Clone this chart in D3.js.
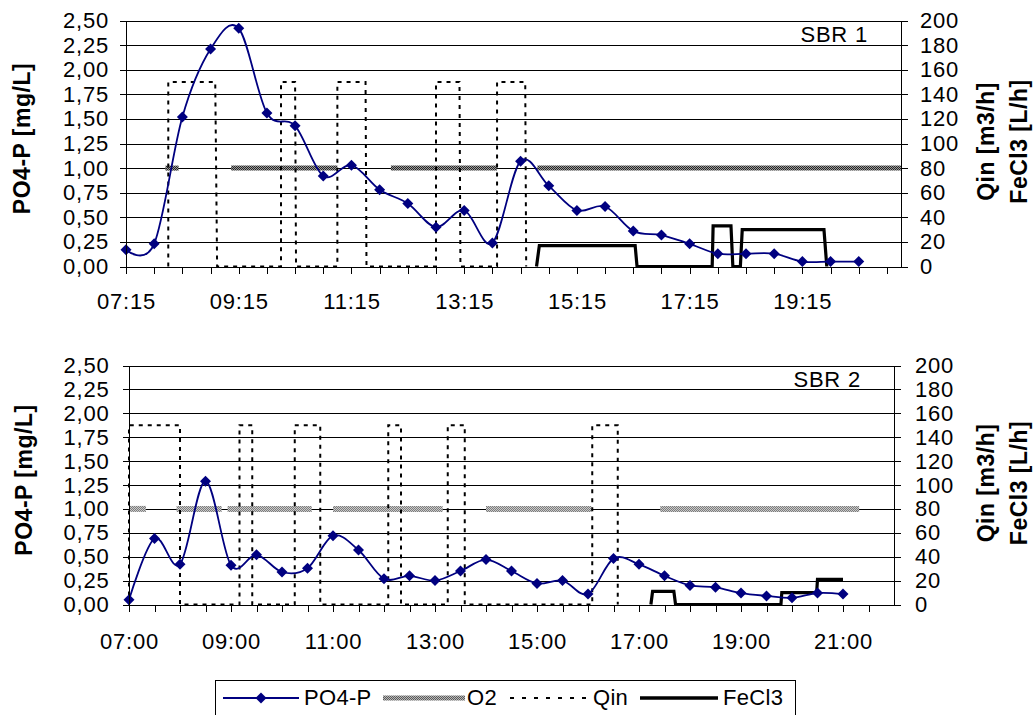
<!DOCTYPE html>
<html>
<head>
<meta charset="utf-8">
<title>SBR 1 / SBR 2</title>
<script src="https://d3js.org/d3.v7.min.js"></script>
<style>
  body { margin: 0; background: #fff; }
  svg text { font-family: "Liberation Sans", Arial, sans-serif; fill: #000; }
</style>
</head>
<body>
<script>
// ---- SBR 1 ----
const sbr1Times = ["07:15","07:45","08:15","08:45","09:15","09:45","10:15","10:45","11:15","11:45","12:15","12:45","13:15","13:45",
                   "14:15","14:45","15:15","15:45","16:15","16:45","17:15","17:45","18:15","18:45","19:15","19:45","20:15"];
const sbr1PO4 = [0.17,0.23,1.52,2.21,2.42,1.56,1.43,0.92,1.03,0.78,0.64,0.40,0.57,0.24,
                 1.07,0.82,0.57,0.61,0.36,0.32,0.23,0.13,0.13,0.13,0.05,0.05,0.05];
const sbr1O2Start = ["07:57","09:07","11:57","14:33"];
const sbr1O2End   = ["08:11","11:00","13:50","21:00"];
const sbr1QinTimes  = ["08:00","08:00","08:50","08:52","10:00","10:00","10:15","10:16","11:00","11:00","11:30","11:31",
                       "12:45","12:45","13:10","13:11","13:50","13:50","14:20","14:21"];
const sbr1QinValues = [0,150,150,0, 0,150,150,0, 0,150,150,0, 0,150,150,0, 0,150,150,0];
const sbr1FeTimes  = ["14:32","14:35","16:17","16:19","17:39","17:40","17:59","18:01","18:09","18:11","19:38","19:41"];
const sbr1FeValues = [0,17,17,0, 0,33,33,0, 0,30,30,0];
const sbr1XLabels = ["07:15","09:15","11:15","13:15","15:15","17:15","19:15"];

// ---- SBR 2 ----
const sbr2Times = ["07:00","07:30","08:00","08:30","09:00","09:30","10:00","10:30","11:00","11:30","12:00","12:30","13:00","13:30",
                   "14:00","14:30","15:00","15:30","16:00","16:30","17:00","17:30","18:00","18:30","19:00","19:30","20:00","20:30","21:00"];
const sbr2PO4 = [0.05,0.69,0.42,1.29,0.41,0.52,0.34,0.38,0.72,0.57,0.27,0.30,0.25,0.35,
                 0.47,0.35,0.22,0.25,0.11,0.48,0.42,0.30,0.20,0.18,0.12,0.09,0.07,0.12,0.11];
const sbr2O2Start = ["07:00","07:56","08:56","11:00","14:00","17:25"];
const sbr2O2End   = ["07:20","08:49","10:35","13:09","16:04","21:19"];
const sbr2QinTimes  = ["07:00","07:00","08:00","08:00","09:10","09:10","09:25","09:25","10:15","10:15","10:45","10:45",
                       "12:05","12:05","12:20","12:20","13:15","13:15","13:35","13:35","16:05","16:05","16:35","16:35"];
const sbr2QinValues = [0,150,150,0, 0,150,150,0, 0,150,150,0, 0,150,150,0, 0,150,150,0, 0,150,150,0];
const sbr2FeTimes  = ["17:14","17:16","17:41","17:43","19:47","19:48","20:29","20:30","21:00"];
const sbr2FeValues = [0,11,11,0, 0,10,10,21,21];
const sbr2XLabels = ["07:00","09:00","11:00","13:00","15:00","17:00","19:00","21:00"];

// shared
const o2Level = 80;
const leftTicks = [0,0.25,0.5,0.75,1,1.25,1.5,1.75,2,2.25,2.5];
const leftTickLabels = ["0,00","0,25","0,50","0,75","1,00","1,25","1,50","1,75","2,00","2,25","2,50"];
const rightTicks = [0,20,40,60,80,100,120,140,160,180,200];
const legendNames = ["PO4-P","O2","Qin","FeCl3"];

const toMin = s => { const [h, m] = s.split(":").map(Number); return h * 60 + m; };
const fmtT = m => String(Math.floor(m / 60)).padStart(2, "0") + ":" + String(m % 60).padStart(2, "0");

const W = 1034, H = 715, FS = 22;
const svg = d3.select("body").append("svg").attr("width", W).attr("height", H);
const defs = svg.append("defs");

function o2Pattern(id, dark, light) {
    const p = defs.append("pattern").attr("id", id).attr("patternUnits", "userSpaceOnUse")
        .attr("width", 2).attr("height", 2);
    p.append("rect").attr("width", 2).attr("height", 2).attr("fill", light);
    p.append("rect").attr("width", 1).attr("height", 1).attr("fill", dark);
    p.append("rect").attr("x", 1).attr("y", 1).attr("width", 1).attr("height", 1).attr("fill", dark);
}
o2Pattern("o2a", "#262626", "#9a9a9a");
o2Pattern("o2b", "#7c7c7c", "#cacaca");
o2Pattern("o2leg", "#5a5a5a", "#b8b8b8");

const diamond = "M0,-5.5L5.5,0L0,5.5L-5.5,0Z";

function panel(p) {
    const x = d3.scaleLinear().domain([toMin(p.start), toMin(p.end)]).range([p.left, p.right]);
    const yL = d3.scaleLinear().domain([0, 2.5]).range([p.bottom, p.top]);
    const yR = d3.scaleLinear().domain([0, 200]).range([p.bottom, p.top]);
    const g = svg.append("g");

    // gridlines
    g.append("g").attr("transform", `translate(${p.left},0)`)
        .call(d3.axisLeft(yL).tickValues(leftTicks.slice(1)).tickSize(-(p.right - p.left)).tickFormat(""))
        .call(s => s.select(".domain").remove())
        .call(s => s.selectAll("line").attr("stroke", "#000").attr("shape-rendering", "crispEdges"));

    // O2 (on/off bars at 80)
    g.selectAll(".o2").data(p.o2Start.map((s, i) => [s, p.o2End[i]])).join("line")
        .attr("x1", d => x(toMin(d[0]))).attr("x2", d => x(Math.min(toMin(d[1]), toMin(p.end))))
        .attr("y1", yR(o2Level)).attr("y2", yR(o2Level))
        .attr("stroke", `url(#${p.o2Pat})`).attr("stroke-width", p.o2Width);

    // Qin
    const qin = p.qinTimes.map((t, i) => [toMin(t), p.qinValues[i]]);
    g.append("path").datum(qin)
        .attr("d", d3.line().x(d => x(d[0])).y(d => yR(d[1])))
        .attr("fill", "none").attr("stroke", "#000").attr("stroke-width", 2).attr("stroke-dasharray", "4,5");

    // FeCl3
    const fe = p.feTimes.map((t, i) => [toMin(t), p.feValues[i]]);
    g.append("path").datum(fe)
        .attr("d", d3.line().x(d => x(d[0])).y(d => yR(d[1])))
        .attr("fill", "none").attr("stroke", "#000").attr("stroke-width", 3.2).attr("stroke-linejoin", "miter");

    // PO4-P
    const po4 = p.times.map((t, i) => [toMin(t), p.po4[i]]);
    g.append("path").datum(po4)
        .attr("d", d3.line().x(d => x(d[0])).y(d => yL(d[1])).curve(d3.curveCardinal.tension(0)))
        .attr("fill", "none").attr("stroke", "#000080").attr("stroke-width", 1.8);
    g.selectAll(".pt").data(po4).join("path")
        .attr("d", diamond).attr("fill", "#000080")
        .attr("transform", d => `translate(${x(d[0])},${yL(d[1])})`);

    // axes
    const styleAxis = s => {
        s.selectAll("path,line").attr("stroke", "#000").attr("shape-rendering", "crispEdges");
        s.selectAll("text").attr("font-size", FS).attr("font-family", null).attr("letter-spacing", 0.8);
    };
    g.append("g").attr("transform", `translate(${p.left},0)`)
        .call(d3.axisLeft(yL).tickValues(leftTicks).tickSize(6).tickSizeOuter(0).tickPadding(p.padL)
            .tickFormat((d, i) => leftTickLabels[i]))
        .call(styleAxis);
    g.append("g").attr("transform", `translate(${p.right},0)`)
        .call(d3.axisRight(yR).tickValues(rightTicks).tickSize(7).tickSizeOuter(0).tickPadding(p.padR))
        .call(styleAxis);
    const xTicks = d3.range(toMin(p.start), toMin(p.end), 30);
    g.append("g").attr("transform", `translate(0,${p.bottom})`)
        .call(d3.axisBottom(x).tickValues(xTicks).tickSize(7).tickSizeOuter(0).tickPadding(p.padX)
            .tickFormat(d => p.xLabels.includes(fmtT(d)) ? fmtT(d) : ""))
        .call(styleAxis);

    // titles
    g.append("text").attr("text-anchor", "end").attr("font-size", FS).attr("letter-spacing", 0.8)
        .attr("x", p.right - 33).attr("y", p.top + 21).text(p.name);
    const cy = (p.top + p.bottom) / 2;
    const bold = (tx, ty, label) => g.append("text").attr("text-anchor", "middle").attr("font-size", 23)
        .attr("font-weight", "bold").attr("letter-spacing", 0.5)
        .attr("transform", `translate(${tx},${ty}) rotate(-90)`).text(label);
    bold(p.titleLX, cy - 5, "PO4-P [mg/L]");
    bold(994, cy - 2, "Qin [m3/h]");
    bold(1027, cy - 2, "FeCl3 [L/h]");
}

panel({
    name: "SBR 1", start: "07:15", end: "21:00",
    left: 126, right: 901, top: 20.5, bottom: 266.5,
    padL: 11, padR: 12, padX: 20, titleLX: 30,
    times: sbr1Times, po4: sbr1PO4, o2Start: sbr1O2Start, o2End: sbr1O2End, o2Pat: "o2a", o2Width: 5,
    qinTimes: sbr1QinTimes, qinValues: sbr1QinValues, feTimes: sbr1FeTimes, feValues: sbr1FeValues,
    xLabels: sbr1XLabels
});
panel({
    name: "SBR 2", start: "07:00", end: "22:00",
    left: 129, right: 894, top: 365.5, bottom: 604.5,
    padL: 13.5, padR: 14, padX: 22, titleLX: 31.5,
    times: sbr2Times, po4: sbr2PO4, o2Start: sbr2O2Start, o2End: sbr2O2End, o2Pat: "o2b", o2Width: 6,
    qinTimes: sbr2QinTimes, qinValues: sbr2QinValues, feTimes: sbr2FeTimes, feValues: sbr2FeValues,
    xLabels: sbr2XLabels
});

// legend
const leg = svg.append("g");
leg.append("rect").attr("x", 215.5).attr("y", 680.5).attr("width", 580).attr("height", 40)
    .attr("fill", "#fff").attr("stroke", "#000").attr("stroke-width", 1);
const ly = 698;
const legItems = [
    { x1: 223, x2: 299, tx: 304 },
    { x1: 383, x2: 465, tx: 467 },
    { x1: 510, x2: 587, tx: 593 },
    { x1: 640, x2: 718, tx: 723 }
];
legItems.forEach((it, i) => {
    const ln = leg.append("line").attr("x1", it.x1).attr("x2", it.x2).attr("y1", ly).attr("y2", ly);
    if (i === 0) ln.attr("stroke", "#000080").attr("stroke-width", 1.8);
    if (i === 1) ln.attr("stroke", "url(#o2leg)").attr("stroke-width", 5);
    if (i === 2) ln.attr("stroke", "#000").attr("stroke-width", 2).attr("stroke-dasharray", "4,8");
    if (i === 3) ln.attr("stroke", "#000").attr("stroke-width", 3.5);
    if (i === 0) leg.append("path").attr("d", diamond).attr("fill", "#000080")
        .attr("transform", `translate(${(it.x1 + it.x2) / 2},${ly})`);
    leg.append("text").attr("x", it.tx).attr("y", 705).attr("font-size", FS).attr("letter-spacing", 0.3)
        .text(legendNames[i]);
});
</script>
</body>
</html>
